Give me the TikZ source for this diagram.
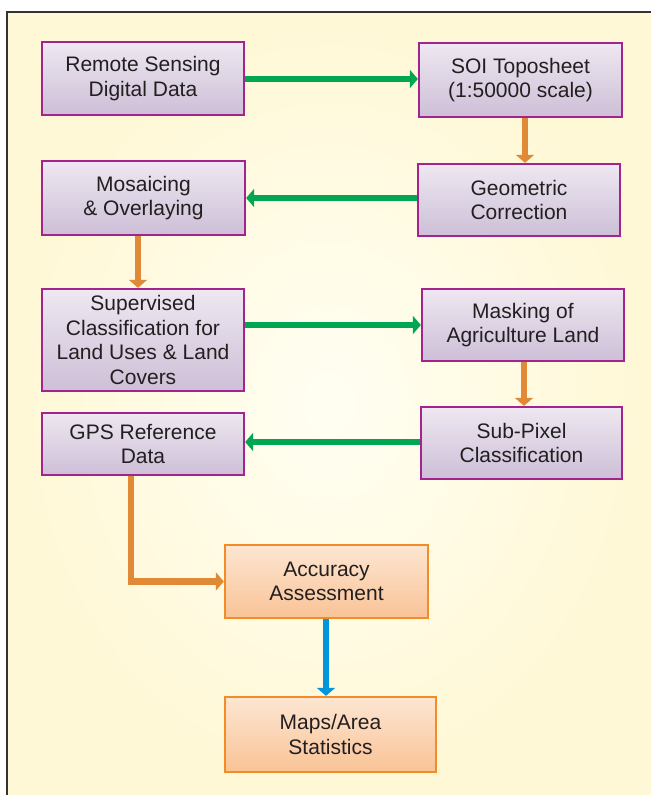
\documentclass[tikz,border=0pt]{standalone}
\usepackage{fontspec}
\setmainfont{Liberation Sans}
\usetikzlibrary{arrows.meta,shadings}
\definecolor{txt}{HTML}{231F20}
\definecolor{purpB}{HTML}{A3238F}
\definecolor{lavT}{HTML}{EEE8F1}
\definecolor{lavB}{HTML}{CDBFD7}
\definecolor{orB}{HTML}{F38B26}
\definecolor{orT}{HTML}{FDE6D2}
\definecolor{orBot}{HTML}{F9C396}
\definecolor{grn}{HTML}{00A651}
\definecolor{org}{HTML}{E08A37}
\definecolor{blu}{HTML}{0096DB}
\definecolor{bgIn}{HTML}{FFFEF2}
\definecolor{bgOut}{HTML}{FFF8D6}
\tikzset{
  pbox/.style={draw=purpB, line width=2.3pt, top color=lavT, bottom color=lavB,
    align=center, inner sep=0pt, text=txt,
    font=\fontsize{21}{24.5}\selectfont},
  obox/.style={draw=orB, line width=2.3pt, top color=orT, bottom color=orBot,
    align=center, inner sep=0pt, text=txt,
    font=\fontsize{21}{24.5}\selectfont},
  conn/.style={line width=6.5pt, -{Triangle[width=18pt,length=8pt]}},
}
\begin{document}
\begin{tikzpicture}[x=1pt,y=-1pt]
\useasboundingbox (0,0) rectangle (651,795);
\fill[white] (0,0) rectangle (651,795);
\shade[inner color=bgIn, outer color=bgOut] (7,12) rectangle (651,795);
\draw[line width=1.2pt, black!80] (7,795) -- (7,12) -- (651,12);

\node[pbox, minimum width=202pt, minimum height=73pt] (rs) at (143,78.5) {Remote Sensing\\Digital Data};
\node[pbox, minimum width=203pt, minimum height=74pt] (soi) at (520.5,80) {SOI Toposheet\\(1:50000 scale)};
\node[pbox, minimum width=202pt, minimum height=72pt] (geo) at (519,200) {Geometric\\Correction};
\node[pbox, minimum width=203pt, minimum height=74pt] (mos) at (143.5,198) {Mosaicing\\\& Overlaying};
\node[pbox, minimum width=202pt, minimum height=102pt] (sup) at (143,340) {Supervised\\Classification for\\Land Uses \& Land\\Covers};
\node[pbox, minimum width=202pt, minimum height=72pt] (mask) at (523,325) {Masking of\\Agriculture Land};
\node[pbox, minimum width=201pt, minimum height=72pt] (sub) at (521.5,443) {Sub-Pixel\\Classification};
\node[pbox, minimum width=202pt, minimum height=62pt] (gps) at (143,444) {GPS Reference\\Data};
\node[obox, minimum width=203pt, minimum height=73pt] (acc) at (326.5,581.5) {Accuracy\\Assessment};
\node[obox, minimum width=211pt, minimum height=75pt] (maps) at (330.5,734.5) {Maps/Area\\Statistics};

\draw[conn, grn] (rs.east |- 0,79) -- (soi.west |- 0,79);
\draw[conn, org] (soi.south -| 525,0) -- (geo.north -| 525,0);
\draw[conn, grn] (geo.west |- 0,198) -- (mos.east |- 0,198);
\draw[conn, org] (mos.south -| 138,0) -- (sup.north -| 138,0);
\draw[conn, grn] (sup.east |- 0,325) -- (mask.west |- 0,325);
\draw[conn, org] (mask.south -| 524,0) -- (sub.north -| 524,0);
\draw[conn, grn] (sub.west |- 0,442) -- (gps.east |- 0,442);
\draw[conn, org] (gps.south -| 131,0) |- (acc.west);
\draw[conn, blu] (acc.south -| 326,0) -- (maps.north -| 326,0);
\end{tikzpicture}
\end{document}
